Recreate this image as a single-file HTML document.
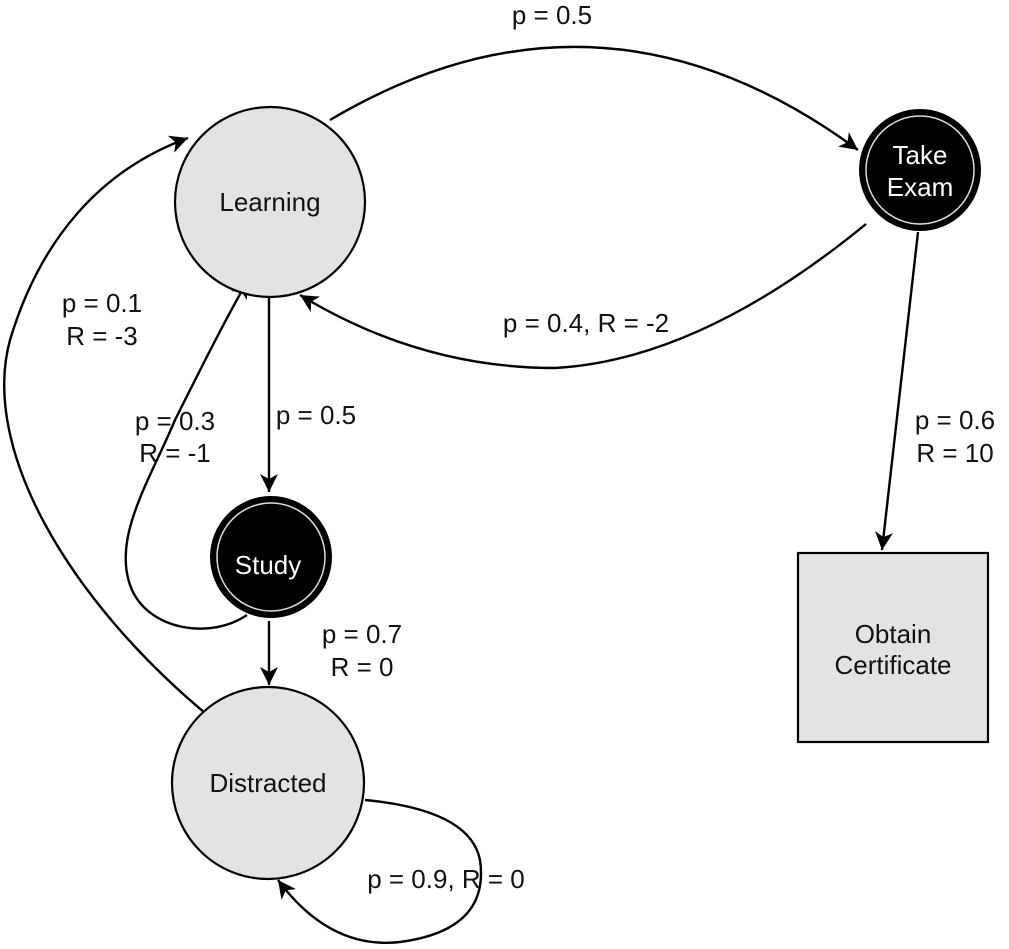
<!DOCTYPE html>
<html><head><style>body{margin:0;background:#fff}svg{display:block}text{font-family:"Liberation Sans",Arial,sans-serif;font-size:26px;fill:#111}</style></head>
<body>
<svg width="1009" height="949" viewBox="0 0 1009 949">
<defs>
<marker id="b" markerWidth="20" markerHeight="20" refX="18" refY="9" orient="auto" markerUnits="userSpaceOnUse"><path d="M0,0 L18,9 L0,18 L5,9z" fill="#000"/></marker></defs>
<g fill="none" stroke="#000" stroke-width="2.4">
<path d="M330,120 Q600,-40 858,150" marker-end="url(#b)"/>
<path d="M866,224 Q700,360 555,368 Q420,368 300,295" marker-end="url(#b)"/>
<path d="M918,232 L882,550" marker-end="url(#b)"/>
<path d="M269,298 L269,492" marker-end="url(#b)"/>
<path d="M247,615 C210,640 150,630 132,590 C110,540 150,480 175,420 C200,370 225,320 248,280" marker-end="url(#b)"/>
<path d="M269,621 L269,685" marker-end="url(#b)"/>
<path d="M205,713 C70,600 -20,450 10,340 C40,240 100,170 188,138" marker-end="url(#b)"/>
<path d="M365,800 Q470,810 480,860 Q490,930 400,942 Q330,950 278,880" marker-end="url(#b)"/>
</g>
<circle cx="270" cy="202" r="95" fill="#e3e3e3" stroke="#000" stroke-width="2.2"/>
<circle cx="268" cy="783" r="96" fill="#e3e3e3" stroke="#000" stroke-width="2.2"/>
<circle cx="271" cy="557" r="61" fill="#000"/>
<circle cx="271" cy="557" r="54" fill="none" stroke="#ddd" stroke-width="1.5"/>
<circle cx="920" cy="170" r="61" fill="#000"/>
<circle cx="920" cy="170" r="54" fill="none" stroke="#ddd" stroke-width="1.5"/>
<rect x="798" y="553" width="190" height="189" fill="#e3e3e3" stroke="#000" stroke-width="2.2"/>
<g text-anchor="middle">
<text x="270" y="211">Learning</text>
<text x="268" y="792">Distracted</text>
<text x="268" y="574" style="fill:#fff">Study</text>
<text x="920" y="164" style="fill:#fff">Take</text>
<text x="920" y="196" style="fill:#fff">Exam</text>
<text x="893" y="643">Obtain</text>
<text x="893" y="674">Certificate</text>
<text x="552" y="24">p = 0.5</text>
<text x="586" y="332">p = 0.4, R = -2</text>
<text x="955" y="429">p = 0.6</text>
<text x="955" y="462">R = 10</text>
<text x="316" y="424">p = 0.5</text>
<text x="175" y="430">p = 0.3</text>
<text x="175" y="462">R = -1</text>
<text x="102" y="312">p = 0.1</text>
<text x="102" y="345">R = -3</text>
<text x="362" y="643">p = 0.7</text>
<text x="362" y="676">R = 0</text>
<text x="446" y="888">p = 0.9, R = 0</text>
</g>
</svg>
</body></html>
